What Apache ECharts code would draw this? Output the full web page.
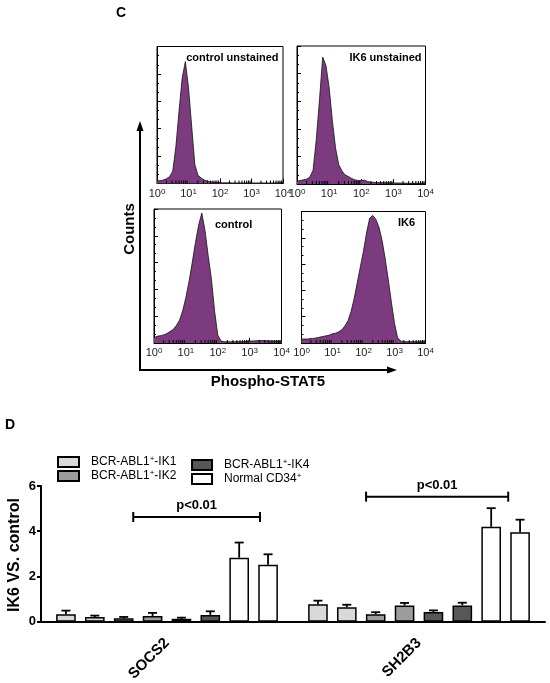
<!DOCTYPE html>
<html><head><meta charset="utf-8">
<script src="https://cdn.jsdelivr.net/npm/echarts@6/dist/echarts.min.js"></script>
<style>html,body{margin:0;padding:0;background:#fff}#c{width:550px;height:683px}</style>
</head><body><div id="c"></div>
<script>
// ---------- Panel C: flow histograms (bins on log10 scale) ----------
const histBins = [0.0,0.1,0.2,0.3,0.4,0.5,0.6,0.7,0.8,0.9,1.0,1.1,1.2,1.3,1.4,1.5,1.6,1.7,1.8,1.9,2.0,
                  2.1,2.2,2.3,2.4,2.5,2.6,2.7,2.8,2.9,3.0,3.1,3.2,3.3,3.4,3.5,3.6,3.7,3.8,3.9,4.0];
const ctrlUnstained = [2,2,2.5,3.5,5,9,27,53,77,89,70,42,14,6,4,2.5,1.8,1.2,1,0.8,0.6,
                       0.5,0.5,0.5,0.4,0.4,0.4,0.4,0.4,0.4,0.4,0.4,0.4,0.4,0.4,0.4,0.4,0.4,0.5,0.6,0.8];
const ik6Unstained = [2,2.5,3,3.5,5,10,32,61,92,86,70,46,26,14,9.5,6.5,5.5,4,3,2.5,2.5,
                      2.8,1.8,1.3,1.2,1,1,0.9,0.9,0.8,0.8,0.7,0.7,0.6,0.6,0.5,0.5,0.5,0.5,0.5,0.5];
const ctrlStained = [4,5,5.5,6,7,8.5,10,13,17,24,34,46,60,75,88,97,84,65,48,24,6,
                     1.5,1,1,1,1,1,1,1,1.2,1.4,1.5,1.6,1.8,1.8,1.8,1.6,1.5,1.5,1.5,1.5];
const ik6Stained = [3,3,3,3.5,3.5,4,4.5,5,5.5,6,7,7.5,8.5,10,13,17,24,34,46,58,70,
                    84,95,97,94,88,78,64,48,31,15,4,1.5,1,1,1,1,1,1,1,1];
const histTitles = ['control unstained','IK6 unstained','control','IK6'];
const logMajorTicks = [1,10,100,1000,10000];
const logMinorTicks = [2,3,4,5,6,7,8,9,20,30,40,50,60,70,80,90,200,300,400,500,600,700,800,900,
                       2000,3000,4000,5000,6000,7000,8000,9000];

// ---------- Panel D: bar chart ----------
const genes = ['SOCS2','SH2B3'];
const barNames = ['BCR-ABL1+-IK1','BCR-ABL1+-IK1','BCR-ABL1+-IK2','BCR-ABL1+-IK2',
                  'BCR-ABL1+-IK4','BCR-ABL1+-IK4','Normal CD34+','Normal CD34+'];
const socs2Vals = [0.33,0.21,0.15,0.25,0.13,0.30,2.83,2.52];
const socs2Sem  = [0.16,0.06,0.06,0.14,0.05,0.16,0.67,0.46];
const sh2b3Vals = [0.77,0.64,0.33,0.72,0.43,0.72,4.20,3.95];
const sh2b3Sem  = [0.16,0.11,0.09,0.11,0.07,0.12,0.82,0.56];
const yTicksD = [0,2,4,6];
const yTitleD = 'IK6 VS. control';
const bracketX1 = [0.366,1.29];
const bracketX2 = [0.869,1.854];
const bracketY  = [4.63,5.53];
const bracketText = ['p<0.01','p<0.01'];

const barColors = ['#d9d9d9','#d9d9d9','#9c9c9c','#9c9c9c','#575757','#575757','#ffffff','#ffffff'];
const PURPLE = '#7b3b7e';
const FONT = 'Arial, "Liberation Sans", Helvetica, sans-serif';

const chart = echarts.init(document.getElementById('c'), null, {renderer:'canvas'});

const histGrids = [
  {left:157, top:46.5, width:126, height:137},
  {left:297, top:46,   width:128.5, height:138},
  {left:154, top:209,  width:127.5, height:134},
  {left:301.5, top:211.5, width:124, height:131.5}
];
const histData = [ctrlUnstained, ik6Unstained, ctrlStained, ik6Stained];

const grids = [], xAxes = [], yAxes = [], series = [];
histGrids.forEach((g, i) => {
  grids.push(Object.assign({show:true, borderColor:'#000', borderWidth:1, backgroundColor:'transparent',
                            outerBoundsMode:'none', containLabel:false}, g));
  xAxes.push({
    gridIndex:i, type:'log', logBase:10, min:1, max:10000,
    axisLine:{show:true, lineStyle:{color:'#000', width:1}},
    axisTick:{show:true, inside:true, length:5, lineStyle:{color:'#000', width:1}},
    splitLine:{show:false},
    axisLabel:{
      show:true, margin:4, color:'#222', fontFamily:FONT, fontSize:11,
      showMinLabel:true, showMaxLabel:true,
      formatter: v => '10{s|' + Math.round(Math.log10(v)) + '}',
      rich:{s:{fontSize:8, fontFamily:FONT, color:'#222', verticalAlign:'top', lineHeight:12}}
    }
  });
  yAxes.push({
    gridIndex:i, type:'value', min:0, max:100, interval:20,
    axisLine:{show:true, lineStyle:{color:'#000', width:1}},
    axisTick:{show:true, inside:true, length:4, lineStyle:{color:'#000'}},
    minorTick:{show:true, splitNumber:3, length:2, lineStyle:{color:'#000'}},
    axisLabel:{show:false}, splitLine:{show:false}
  });
  series.push({
    type:'line', xAxisIndex:i, yAxisIndex:i, showSymbol:false, symbol:'none', silent:true,
    data: histBins.map((b, j) => [Math.pow(10, b), histData[i][j]]),
    lineStyle:{color:'#111', width:0.8},
    areaStyle:{color:PURPLE, opacity:1},
    z:2
  });
  series.push({
    type:'custom', xAxisIndex:i, yAxisIndex:i, silent:true, z:5,
    data: logMinorTicks.map(v => [v, 0]),
    renderItem: (p, api) => {
      const pt = api.coord([api.value(0), 0]);
      return {type:'line', shape:{x1:pt[0], y1:pt[1], x2:pt[0], y2:pt[1]-3}, style:{stroke:'#000', lineWidth:1}};
    }
  });
});

// Grid D
grids.push({left:41, right:5, top:486, bottom:61.3, outerBoundsMode:'none', containLabel:false});
xAxes.push({
  gridIndex:4, type:'category', data:genes,
  axisLine:{lineStyle:{color:'#000', width:2}},
  axisTick:{alignWithLabel:true, length:5, lineStyle:{color:'#000', width:2}},
  axisLabel:{rotate:45, margin:19, color:'#000', fontWeight:'bold', fontSize:15, fontFamily:FONT}
});
xAxes.push({gridIndex:4, type:'value', min:0, max:2, show:false});
yAxes.push({
  gridIndex:4, type:'value', min:0, max:6, interval:2,
  axisLine:{show:true, lineStyle:{color:'#000', width:2}},
  axisTick:{show:true, length:4, lineStyle:{color:'#000', width:2}},
  axisLabel:{color:'#000', fontWeight:'bold', fontSize:13, fontFamily:FONT, margin:5,
             formatter: v => yTicksD.indexOf(v) >= 0 ? String(v) : ''},
  splitLine:{show:false}
});

barNames.forEach((n, i) => {
  series.push({
    type:'bar', name:n, xAxisIndex:4, yAxisIndex:4,
    data:[socs2Vals[i], sh2b3Vals[i]],
    barGap:'47%', barCategoryGap:'12%',
    itemStyle:{color:barColors[i], borderColor:'#000', borderWidth:1.5},
    z:2
  });
});

// error bars
const errData = [];
genes.forEach((g, ci) => {
  const vals = ci === 0 ? socs2Vals : sh2b3Vals;
  const sems = ci === 0 ? socs2Sem : sh2b3Sem;
  vals.forEach((v, bi) => errData.push([g, bi, v, sems[bi]]));
});
series.push({
  type:'custom', xAxisIndex:4, yAxisIndex:4, silent:true, z:3,
  encode:{x:0, y:2},
  data:errData,
  renderItem:(params, api) => {
    const ci = api.value(0), bi = api.value(1), v = api.value(2), s = api.value(3);
    const lay = api.barLayout({count:8, barGap:'47%', barCategoryGap:'12%'});
    const base = api.coord([ci, v]);
    const top = api.coord([ci, v + s]);
    const x = base[0] + lay[bi].offsetCenter;
    const half = 4.5;
    return {type:'group', children:[
      {type:'line', shape:{x1:x, y1:base[1], x2:x, y2:top[1]}, style:{stroke:'#000', lineWidth:1.8}},
      {type:'line', shape:{x1:x-half, y1:top[1], x2:x+half, y2:top[1]}, style:{stroke:'#000', lineWidth:1.8}}
    ]};
  }
});

// significance brackets
series.push({
  type:'custom', xAxisIndex:5, yAxisIndex:4, silent:true, z:4, clip:false,
  data: bracketX1.map((x1, i) => [x1, bracketY[i], bracketX2[i], i]),
  renderItem:(params, api) => {
    const a = api.coord([api.value(0), api.value(1)]);
    const b = api.coord([api.value(2), api.value(1)]);
    const idx = api.value(3);
    return {type:'group', children:[
      {type:'line', shape:{x1:a[0], y1:a[1], x2:b[0], y2:b[1]}, style:{stroke:'#000', lineWidth:2}},
      {type:'line', shape:{x1:a[0], y1:a[1]-5, x2:a[0], y2:a[1]+5}, style:{stroke:'#000', lineWidth:2}},
      {type:'line', shape:{x1:b[0], y1:b[1]-5, x2:b[0], y2:b[1]+5}, style:{stroke:'#000', lineWidth:2}},
      {type:'text', x:(a[0]+b[0])/2, y:a[1]-5,
       style:{text:bracketText[idx], fill:'#000', font:'bold 13px ' + FONT, align:'center', verticalAlign:'bottom'}}
    ]};
  }
});

const legendFmt = n => n.replace('+', '{s|+}');
const legendText = {fontSize:12, fontFamily:FONT, color:'#000', padding:[0,0,0,7],
  rich:{s:{fontSize:8, fontFamily:FONT, color:'#000', verticalAlign:'top', lineHeight:14}}};

const graphic = [
  {type:'text', left:116, top:6, style:{text:'C', font:'bold 14px ' + FONT, fill:'#000'}},
  {type:'text', left:5, top:418, style:{text:'D', font:'bold 14px ' + FONT, fill:'#000'}},
  // histogram titles
  {type:'text', x:278.5, y:57.5, style:{text:histTitles[0], font:'bold 11px ' + FONT, fill:'#000', align:'right', verticalAlign:'middle'}},
  {type:'text', x:421.5, y:57.5, style:{text:histTitles[1], font:'bold 11px ' + FONT, fill:'#000', align:'right', verticalAlign:'middle'}},
  {type:'text', x:215, y:225, style:{text:histTitles[2], font:'bold 11px ' + FONT, fill:'#000', align:'left', verticalAlign:'middle'}},
  {type:'text', x:398, y:223, style:{text:histTitles[3], font:'bold 11px ' + FONT, fill:'#000', align:'left', verticalAlign:'middle'}},
  // Counts axis arrows
  {type:'line', shape:{x1:140, y1:370, x2:140, y2:130}, style:{stroke:'#000', lineWidth:2}},
  {type:'polygon', shape:{points:[[140,121],[136.5,131],[143.5,131]]}, style:{fill:'#000'}},
  {type:'line', shape:{x1:139, y1:370, x2:389, y2:370}, style:{stroke:'#000', lineWidth:2}},
  {type:'polygon', shape:{points:[[397,370],[387,366.5],[387,373.5]]}, style:{fill:'#000'}},
  {type:'text', x:130, y:229, rotation:Math.PI/2, style:{text:'Counts', font:'bold 15px ' + FONT, fill:'#000', align:'center', verticalAlign:'middle'}},
  {type:'text', x:268, y:382, style:{text:'Phospho-STAT5', font:'bold 15px ' + FONT, fill:'#000', align:'center', verticalAlign:'middle'}},
  // panel D y-axis title
  {type:'text', x:15, y:555, rotation:Math.PI/2, style:{text:yTitleD, font:'bold 16px ' + FONT, fill:'#000', align:'center', verticalAlign:'middle'}}
];

chart.setOption({
  animation:false,
  backgroundColor:'#fff',
  textStyle:{fontFamily:FONT},
  grid:grids, xAxis:xAxes, yAxis:yAxes, series:series,
  legend:[
    {data:['BCR-ABL1+-IK1','BCR-ABL1+-IK2'], orient:'vertical', left:57, top:455, itemGap:1, padding:0,
     itemWidth:21, itemHeight:10, icon:'rect', formatter:legendFmt, textStyle:legendText, selectedMode:false},
    {data:['BCR-ABL1+-IK4','Normal CD34+'], orient:'vertical', left:191, top:458, itemGap:1, padding:0,
     itemWidth:20, itemHeight:10, icon:'rect', formatter:legendFmt, textStyle:legendText, selectedMode:false}
  ],
  graphic:graphic
});
</script></body></html>
